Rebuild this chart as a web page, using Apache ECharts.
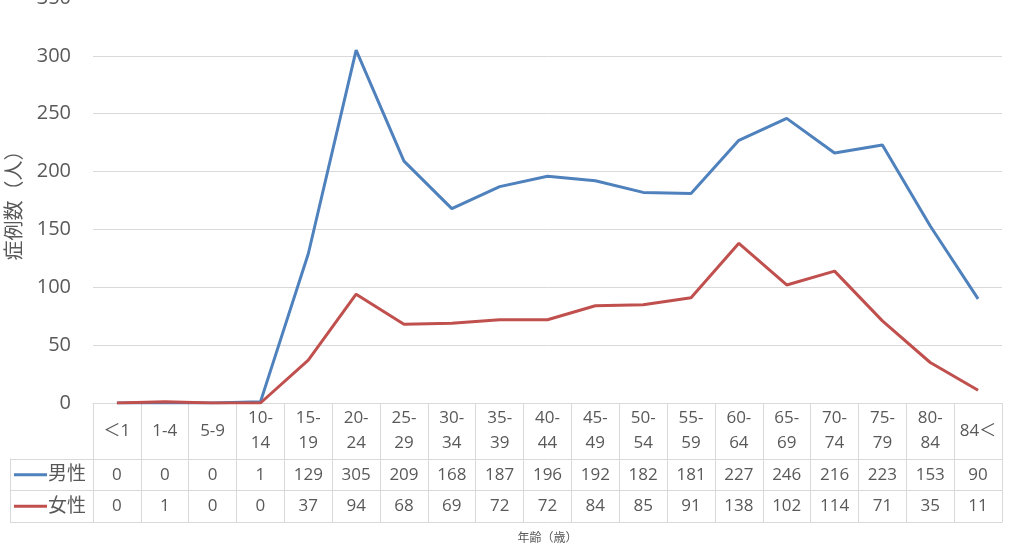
<!DOCTYPE html>
<html><head><meta charset="utf-8">
<script src="https://cdn.jsdelivr.net/npm/echarts@6/dist/echarts.min.js"></script>
<style>html,body{margin:0;padding:0;background:#fff}#c{width:1012px;height:560px}</style>
</head><body><div id="c"></div>
<script>
const categories = ['＜1','1-4','5-9','10-\n14','15-\n19','20-\n24','25-\n29','30-\n34','35-\n39','40-\n44','45-\n49','50-\n54','55-\n59','60-\n64','65-\n69','70-\n74','75-\n79','80-\n84','84＜'];
const male = [0,0,0,1,129,305,209,168,187,196,192,182,181,227,246,216,223,153,90];
const female = [0,1,0,0,37,94,68,69,72,72,84,85,91,138,102,114,71,35,11];
const seriesNames = ['男性','女性'];
const colors = ['#4f81bd','#c0504d'];
const xTitle = '年齢（歳）';
const yTitle = '症例数（人）';

const FONT = '"Open Sans","Noto Sans CJK JP",sans-serif';
const TXT = '#595959';
const GRID = '#d9d9d9';

function rowAxis(offset, values) {
  return {
    type: 'category', data: categories, gridIndex: 0, position: 'bottom', offset: offset,
    boundaryGap: true,
    axisLine: {show: true, lineStyle: {color: GRID, width: 1}},
    axisTick: {show: false},
    axisLabel: {interval: 0, verticalAlign: 'middle', margin: 16, fontSize: 17, color: TXT, fontFamily: FONT,
      formatter: (v, i) => String(values[i])}
  };
}

const chart = echarts.init(document.getElementById('c'), null, {renderer: 'canvas'});
chart.setOption({
  animation: false,
  color: colors,
  grid: [
    {left: 93, right: 10, top: -2, bottom: 157, outerBoundsMode: 'none'},
    {left: 10, right: 919, top: 459, bottom: 38, outerBoundsMode: 'none'}
  ],
  xAxis: [
    {
      type: 'category', data: categories, boundaryGap: true, position: 'bottom',
      axisLine: {show: true, lineStyle: {color: GRID, width: 1}},
      axisTick: {show: true, interval: 0, length: 119, lineStyle: {color: GRID, width: 1}},
      axisLabel: {interval: 0, verticalAlign: 'middle', margin: 28, fontSize: 17, lineHeight: 25, color: TXT, fontFamily: FONT}
    },
    rowAxis(56, male),
    rowAxis(87, female),
    {
      type: 'category', data: categories, gridIndex: 0, position: 'bottom', offset: 119,
      axisLine: {show: true, lineStyle: {color: GRID, width: 1}},
      axisTick: {show: false}, axisLabel: {show: false},
      name: xTitle, nameLocation: 'middle', nameGap: 11, nameMoveOverlap: false,
      nameTextStyle: {fontSize: 12, color: TXT, fontFamily: FONT}
    },
    {type: 'value', gridIndex: 1, show: false}
  ],
  yAxis: [
    {
      type: 'value', min: 0, max: 350, interval: 50,
      axisLine: {show: false}, axisTick: {show: false},
      splitLine: {lineStyle: {color: GRID, width: 1}},
      axisLabel: {fontSize: 20, color: TXT, fontFamily: FONT, margin: 22},
      name: yTitle, nameLocation: 'middle', nameRotate: 90, nameGap: 68, nameMoveOverlap: false,
      nameTextStyle: {fontSize: 20, color: TXT, fontFamily: FONT}
    },
    {
      type: 'category', gridIndex: 1, data: seriesNames, inverse: true, boundaryGap: true, position: 'left',
      axisLine: {show: true, lineStyle: {color: GRID, width: 1}},
      axisTick: {show: true, inside: true, interval: 0, length: 83, lineStyle: {color: GRID, width: 1}},
      splitLine: {show: false},
      axisLabel: {
        inside: true, margin: 4, interval: 0, align: 'left', verticalAlign: 'middle',
        formatter: (v, i) => '{ln' + i + '|}{t|' + v + '}',
        rich: {
          ln0: {width: 33, height: 3, backgroundColor: colors[0]},
          ln1: {width: 33, height: 3, backgroundColor: colors[1]},
          t: {fontSize: 19, color: TXT, fontFamily: FONT, padding: [0, 0, 0, 1]}
        }
      }
    }
  ],
  series: [
    {name: seriesNames[0], type: 'line', data: male, xAxisIndex: 0, yAxisIndex: 0, symbol: 'none', lineStyle: {width: 3, color: colors[0]}},
    {name: seriesNames[1], type: 'line', data: female, xAxisIndex: 0, yAxisIndex: 0, symbol: 'none', lineStyle: {width: 3, color: colors[1]}}
  ]
});
</script>
</body></html>
